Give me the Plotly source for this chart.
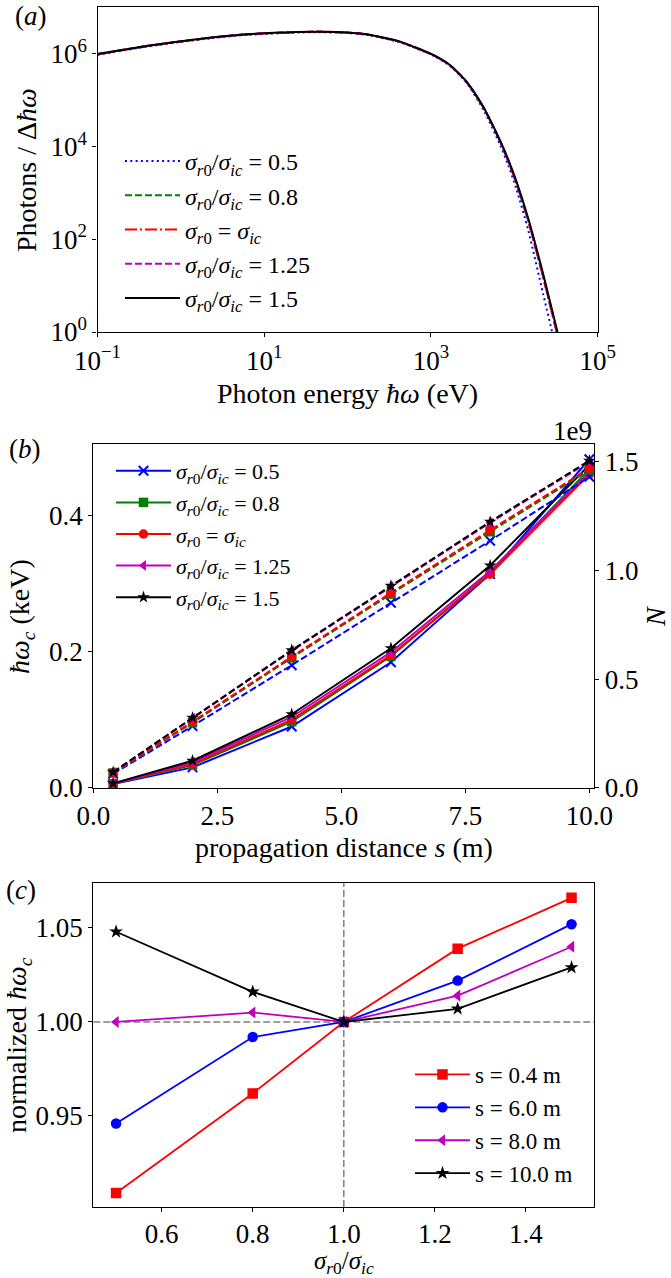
import plotly.graph_objects as go

W, H = 671, 1278
FONT = "Liberation Serif"

# ---------------- Panel (a): spectra ----------------
energy_eV = [0.1, 0.39, 1.0, 2.45, 6.14, 24.4, 46.6, 97.3, 169, 424, 1064, 1687,
             2673, 4236, 6699, 8433, 10620, 14660, 22180, 32960]
photons_r05 = [9.4e5, 1.42e6, 1.79e6, 2.18e6, 2.54e6, 2.86e6, 2.90e6, 2.80e6, 2.55e6, 1.77e6,
               9.1e5, 5.5e5, 2.34e5, 6.3e4, 1.12e4, 3.98e3, 1.2e3, 158, 6.6, 0.32]
photons_r08 = [9.7e5, 1.46e6, 1.83e6, 2.23e6, 2.60e6, 2.92e6, 2.96e6, 2.86e6, 2.60e6, 1.80e6,
               9.3e5, 5.6e5, 2.45e5, 7.0e4, 1.32e4, 4.9e3, 1.58e3, 251, 15.1, 0.83]
photons_r10 = [9.7e5, 1.46e6, 1.83e6, 2.23e6, 2.60e6, 2.92e6, 2.96e6, 2.86e6, 2.60e6, 1.80e6,
               9.3e5, 5.6e5, 2.45e5, 7.0e4, 1.32e4, 4.9e3, 1.58e3, 251, 15.1, 0.83]
photons_r125 = [9.8e5, 1.47e6, 1.84e6, 2.24e6, 2.61e6, 2.93e6, 2.97e6, 2.87e6, 2.61e6, 1.81e6,
                9.35e5, 5.65e5, 2.47e5, 7.1e4, 1.35e4, 5.05e3, 1.65e3, 265, 16.3, 0.9]
photons_r15 = [9.8e5, 1.47e6, 1.85e6, 2.25e6, 2.62e6, 2.94e6, 2.98e6, 2.88e6, 2.62e6, 1.82e6,
               9.4e5, 5.7e5, 2.5e5, 7.2e4, 1.38e4, 5.25e3, 1.74e3, 282, 17.8, 1.0]

# ---------------- Panel (b): critical energy and photon number ----------------
s_m = [0.4, 2.0, 4.0, 6.0, 8.0, 10.0]
hwc_r05 = [0.00545, 0.0299, 0.090, 0.1845, 0.314, 0.483]
hwc_r08 = [0.00577, 0.0333, 0.097, 0.1934, 0.3155, 0.4685]
hwc_r10 = [0.0060, 0.0348, 0.100, 0.195, 0.314, 0.461]
hwc_r125 = [0.00623, 0.0373, 0.104, 0.1993, 0.3186, 0.4643]
hwc_r15 = [0.0064, 0.0397, 0.108, 0.2051, 0.3267, 0.4745]
N_r05 = [0.064, 0.284, 0.564, 0.851, 1.137, 1.431]       # units of 1e9
N_r08 = [0.068, 0.299, 0.598, 0.891, 1.178, 1.462]
N_r10 = [0.069, 0.304, 0.603, 0.897, 1.186, 1.469]
N_r125 = [0.071, 0.320, 0.630, 0.925, 1.220, 1.500]
N_r15 = [0.072, 0.322, 0.633, 0.929, 1.224, 1.505]

# ---------------- Panel (c): normalized critical energy ----------------
ratio = [0.5, 0.8, 1.0, 1.25, 1.5]
norm_s04 = [0.909, 0.962, 1.000, 1.039, 1.066]
norm_s6 = [0.946, 0.992, 1.000, 1.022, 1.052]
norm_s8 = [1.000, 1.005, 1.000, 1.014, 1.040]
norm_s10 = [1.048, 1.016, 1.000, 1.007, 1.029]

LBL_05 = "<i>σ</i><sub><i>r</i>0</sub>/<i>σ</i><sub><i>ic</i></sub> = 0.5"
LBL_08 = "<i>σ</i><sub><i>r</i>0</sub>/<i>σ</i><sub><i>ic</i></sub> = 0.8"
LBL_10 = "<i>σ</i><sub><i>r</i>0</sub> = <i>σ</i><sub><i>ic</i></sub>"
LBL_125 = "<i>σ</i><sub><i>r</i>0</sub>/<i>σ</i><sub><i>ic</i></sub> = 1.25"
LBL_15 = "<i>σ</i><sub><i>r</i>0</sub>/<i>σ</i><sub><i>ic</i></sub> = 1.5"

fig = go.Figure()

# Panel (a)
specs_a = [
    (photons_r05, "blue", "2px,3.3px", LBL_05),
    (photons_r08, "green", "7px,3px", LBL_08),
    (photons_r10, "red", "12px,3px,2px,3px", LBL_10),
    (photons_r125, "#bf00bf", "7px,3px", LBL_125),
    (photons_r15, "black", "solid", LBL_15),
]
for i, (yv, col, dash, name) in enumerate(specs_a):
    fig.add_trace(go.Scatter(x=energy_eV, y=yv, mode="lines", name=name,
                             line=dict(color=col, width=2, dash=dash, shape="spline", smoothing=0.6),
                             xaxis="x", yaxis="y", legend="legend", legendgroup=f"a{i}"))

# Panel (b)
specs_b = [
    (hwc_r05, N_r05, "blue", "x-thin", LBL_05),
    (hwc_r08, N_r08, "green", "square", LBL_08),
    (hwc_r10, N_r10, "red", "circle", LBL_10),
    (hwc_r125, N_r125, "#bf00bf", "triangle-left", LBL_125),
    (hwc_r15, N_r15, "black", "star", LBL_15),
]
def marker_for(sym, col, size):
    return dict(symbol=sym, size=size, color=col,
                line=dict(color=col, width=2 if sym == "x-thin" else 0))

for i, (hv, nv, col, sym, name) in enumerate(specs_b):
    fig.add_trace(go.Scatter(x=s_m, y=hv, mode="lines+markers", name=name,
                             line=dict(color=col, width=2), marker=marker_for(sym, col, 9.5),
                             xaxis="x2", yaxis="y2", legend="legend2", legendgroup=f"b{i}"))
for i, (hv, nv, col, sym, name) in enumerate(specs_b):
    fig.add_trace(go.Scatter(x=s_m, y=nv, mode="lines+markers", name=name, showlegend=False,
                             line=dict(color=col, width=2, dash="7px,3px"),
                             marker=marker_for(sym, col, 9.5),
                             xaxis="x2", yaxis="y3"))

# Panel (c)
specs_c = [
    (norm_s04, "red", "square", "s = 0.4 m"),
    (norm_s6, "blue", "circle", "s = 6.0 m"),
    (norm_s8, "#bf00bf", "triangle-left", "s = 8.0 m"),
    (norm_s10, "black", "star", "s = 10.0 m"),
]
for i, (yv, col, sym, name) in enumerate(specs_c):
    fig.add_trace(go.Scatter(x=ratio, y=yv, mode="lines+markers", name=name,
                             line=dict(color=col, width=1.8),
                             marker=dict(symbol=sym, size=10.5, color=col),
                             xaxis="x3", yaxis="y4", legend="legend3", legendgroup=f"c{i}"))

def dx(p):
    return p / W

def dy(p):
    return 1 - p / H

tickfont = dict(family=FONT, size=27, color="black")
axis_common = dict(showline=True, linecolor="black", linewidth=1.3, ticks="outside",
                   ticklen=4, tickwidth=1.3, tickcolor="black", showgrid=False,
                   zeroline=False, tickfont=tickfont, automargin=False)

fig.update_layout(
    width=W, height=H, margin=dict(l=0, r=0, t=0, b=0),
    paper_bgcolor="white", plot_bgcolor="white", showlegend=True,
    font=dict(family=FONT, color="black"),
    xaxis=dict(domain=[dx(97.5), dx(597.7)], anchor="y", type="log", range=[-1, 5],
               tickvals=[0.1, 10, 1e3, 1e5],
               ticktext=["10<sup>−1</sup>", "10<sup>1</sup>", "10<sup>3</sup>", "10<sup>5</sup>"],
               mirror=True, **axis_common),
    yaxis=dict(domain=[dy(332), dy(7.3)], anchor="x", type="log", range=[0, 7.0],
               tickvals=[1, 1e2, 1e4, 1e6],
               ticktext=["10<sup>0</sup>", "10<sup>2</sup>", "10<sup>4</sup>", "10<sup>6</sup>"],
               mirror=True, **axis_common),
    xaxis2=dict(domain=[dx(93.3), dx(594.3)], anchor="y2", range=[0, 10.1],
                tickvals=[0, 2.5, 5, 7.5, 10], tickformat=".1f", mirror=True, **axis_common),
    yaxis2=dict(domain=[dy(787.7), dy(444)], anchor="x2", range=[0, 0.5054],
                tickvals=[0, 0.2, 0.4], tickformat=".1f", **axis_common),
    yaxis3=dict(overlaying="y2", side="right", anchor="x2", range=[0, 1.582],
                tickvals=[0, 0.5, 1.0, 1.5], tickformat=".1f", **axis_common),
    xaxis3=dict(domain=[dx(93.3), dx(594.3)], anchor="y4", range=[0.45, 1.55],
                tickvals=[0.6, 0.8, 1.0, 1.2, 1.4], tickformat=".1f", mirror=True,
                ticklabelstandoff=-2,
                title=dict(text="<i>σ</i><sub><i>r</i>0</sub>/<i>σ</i><sub><i>ic</i></sub>",
                           standoff=12, font=dict(family=FONT, size=25, color="black")),
                **axis_common),
    yaxis4=dict(domain=[dy(1207), dy(883)], anchor="x3", range=[0.9016, 1.0739],
                tickvals=[0.95, 1.0, 1.05], tickformat=".2f", mirror=True, **axis_common),
    legend=dict(x=dx(120), y=dy(139), xanchor="left", yanchor="top",
                bgcolor="rgba(0,0,0,0)", font=dict(family=FONT, size=24, color="black"),
                tracegroupgap=0, itemwidth=55),
    legend2=dict(x=dx(111), y=dy(450), xanchor="left", yanchor="top",
                 bgcolor="rgba(0,0,0,0)", font=dict(family=FONT, size=22, color="black"),
                 tracegroupgap=0, itemwidth=55),
    legend3=dict(x=dx(410), y=dy(1053), xanchor="left", yanchor="top",
                 bgcolor="rgba(0,0,0,0)", font=dict(family=FONT, size=23, color="black"),
                 tracegroupgap=0, itemwidth=55),
)

# reference dashed lines in panel (c)
fig.add_shape(type="line", xref="x3", yref="y4 domain", x0=1.0, x1=1.0, y0=0, y1=1,
              line=dict(color="gray", width=1.5, dash="7px,3px"), layer="below")
fig.add_shape(type="line", xref="x3 domain", yref="y4", x0=0, x1=1, y0=1.0, y1=1.0,
              line=dict(color="gray", width=1.5, dash="7px,3px"), layer="below")

def ann(text, xp, yp, size=28, angle=0, xanchor="center", yanchor="middle"):
    fig.add_annotation(text=text, x=dx(xp), y=dy(yp), xref="paper", yref="paper",
                       showarrow=False, textangle=angle, xanchor=xanchor, yanchor=yanchor,
                       font=dict(family=FONT, size=size, color="black"), borderpad=0)

# panel letters
ann("(<i>a</i>)", 31, 16, size=27)
ann("(<i>b</i>)", 25, 449, size=27)
ann("(<i>c</i>)", 21, 890, size=27)

# axis titles
ann("Photons / Δ<i>ħω</i>", 26, 170, angle=-90)
ann("Photon energy <i>ħω</i> (eV)", 347.6, 393)
ann("<i>ħω</i><sub><i>c</i></sub> (keV)", 21, 617, angle=-90)
ann("<i>N</i>", 655, 617, angle=-90)
ann("1e9", 572, 431, size=27)
ann("propagation distance <i>s</i> (m)", 343.8, 847)
ann("normalized <i>ħω</i><sub><i>c</i></sub>", 18, 1045, angle=-90)

fig.write_html("out.html")
